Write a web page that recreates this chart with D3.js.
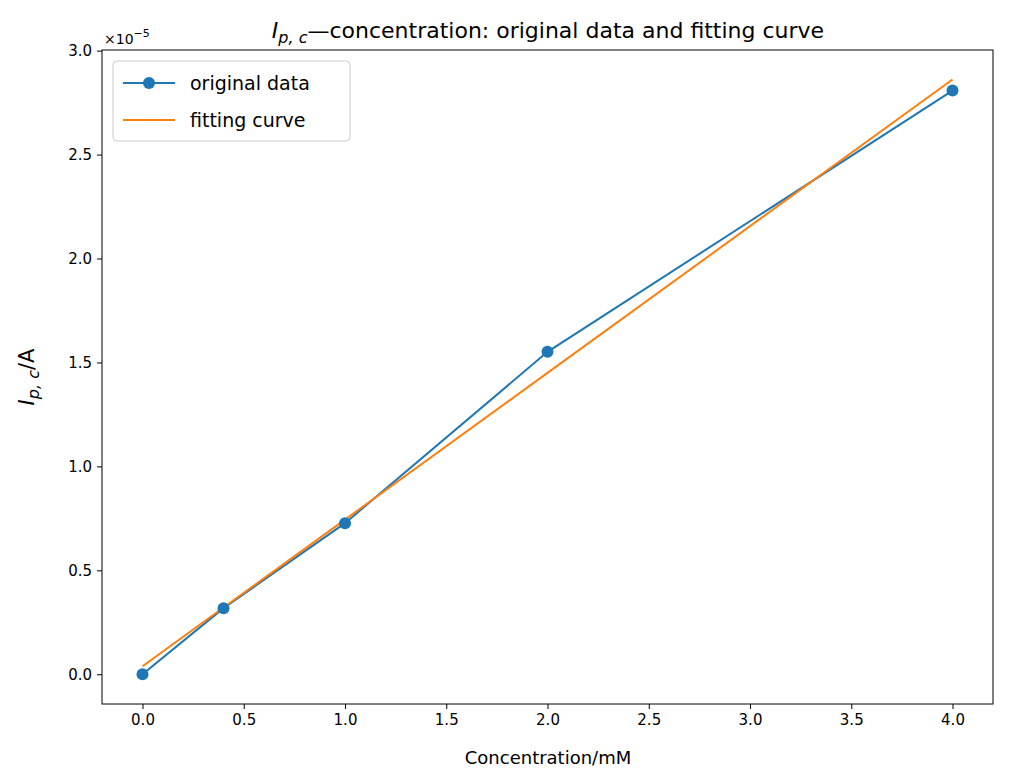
<!DOCTYPE html>
<html><head><meta charset="utf-8">
<script src="https://cdn.jsdelivr.net/npm/d3@7"></script>
<style>body{margin:0;background:#fff}text{font-family:"DejaVu Sans",sans-serif}</style>
</head><body><svg id="c" width="1012" height="784"></svg>
<script>
const concentration=[0,0.4,1.0,2.0,4.0];
const originalData=[0.0,0.318,0.727,1.551,2.808];
const fittingCurve=[0.0385,0.321,0.744,1.450,2.861];
const xTicks=[0,0.5,1,1.5,2,2.5,3,3.5,4];
const yTicks=[0,0.5,1,1.5,2,2.5,3];
const svg=d3.select("#c");
const L=102,R=993,T=50,B=704;
const x=d3.scaleLinear().domain([-0.2,4.2]).range([L,R]);
const y=d3.scaleLinear().domain([-0.143,3.003]).range([B,T]);
const gx=svg.append("g").attr("transform",`translate(0,${B})`).call(d3.axisBottom(x).tickValues(xTicks).tickFormat(d3.format(".1f")).tickSizeOuter(0).tickSize(5).tickPadding(5));
const gy=svg.append("g").attr("transform",`translate(${L},0)`).call(d3.axisLeft(y).tickValues(yTicks).tickFormat(d3.format(".1f")).tickSizeOuter(0).tickSize(5).tickPadding(5));
[gx,gy].forEach(g=>{g.select(".domain").remove();g.selectAll("text").attr("font-size",15).attr("fill","#000");g.selectAll("line").attr("stroke","#000");});
svg.append("rect").attr("x",L).attr("y",T).attr("width",R-L).attr("height",B-T).attr("fill","none").attr("stroke","#000").attr("stroke-width",1);
const line=d3.line().x((d,i)=>x(concentration[i])).y(d=>y(d));
svg.append("path").attr("d",line(originalData)).attr("fill","none").attr("stroke","#1f77b4").attr("stroke-width",2);
svg.append("path").attr("d",line(fittingCurve)).attr("fill","none").attr("stroke","#ff7f0e").attr("stroke-width",2);
svg.selectAll("circle.p").data(originalData).join("circle").attr("cx",(d,i)=>x(concentration[i])).attr("cy",d=>y(d)).attr("r",6).attr("fill","#1f77b4");
svg.append("rect").attr("x",113).attr("y",61).attr("width",237).attr("height",80).attr("rx",4).attr("fill","#fff").attr("stroke","#ccc");
svg.append("line").attr("x1",123).attr("x2",175).attr("y1",83).attr("y2",83).attr("stroke","#1f77b4").attr("stroke-width",2);
svg.append("circle").attr("cx",149).attr("cy",83).attr("r",6).attr("fill","#1f77b4");
svg.append("line").attr("x1",123).attr("x2",175).attr("y1",120).attr("y2",120).attr("stroke","#ff7f0e").attr("stroke-width",2);
svg.append("text").attr("x",190).attr("y",90).attr("font-size",19).text("original data");
svg.append("text").attr("x",190).attr("y",127).attr("font-size",19).text("fitting curve");
const m=svg.append("text").attr("x",104).attr("y",44).attr("font-size",14);
m.append("tspan").text("×10");m.append("tspan").attr("dy",-7).attr("font-size",11).text("−5");
const t=svg.append("text").attr("x",548).attr("y",38).attr("text-anchor","middle").attr("font-size",22);
t.append("tspan").attr("font-style","italic").text("I");
t.append("tspan").attr("font-style","italic").attr("font-size",16).attr("dy",5).text("p, c");
t.append("tspan").attr("dy",-5).text("—concentration: original data and fitting curve");
svg.append("text").attr("x",548).attr("y",764).attr("text-anchor","middle").attr("font-size",18).text("Concentration/mM");
const yl=svg.append("text").attr("transform","translate(34,377) rotate(-90)").attr("text-anchor","middle").attr("font-size",21);
yl.append("tspan").attr("font-style","italic").text("I");
yl.append("tspan").attr("font-style","italic").attr("font-size",16).attr("dy",5).text("p, c");
yl.append("tspan").attr("dy",-5).text("/A");
</script></body></html>
